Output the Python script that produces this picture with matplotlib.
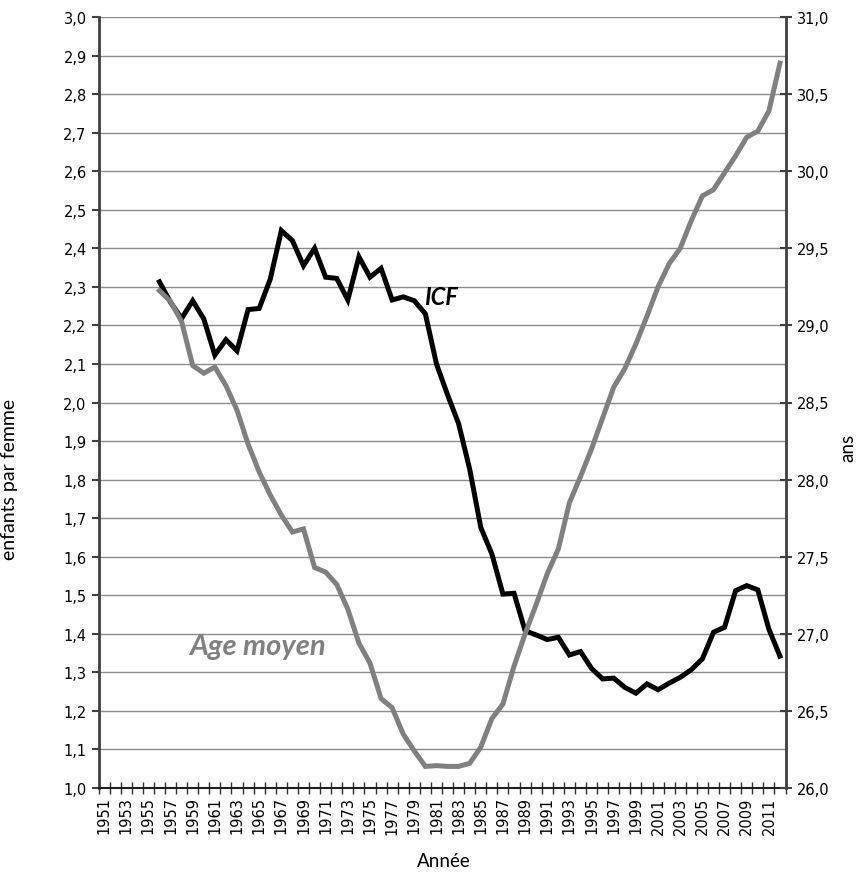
import matplotlib
matplotlib.use("Agg")
import matplotlib.pyplot as plt
import numpy as np
from matplotlib.ticker import FuncFormatter, FixedLocator

years = list(range(1956, 2013))
icf = [2.313, 2.26, 2.218, 2.264, 2.217, 2.123, 2.163, 2.134, 2.241, 2.244,
       2.32, 2.446, 2.42, 2.355, 2.40, 2.325, 2.322, 2.266, 2.378, 2.325,
       2.348, 2.266, 2.274, 2.264, 2.23, 2.10, 2.02, 1.945, 1.827, 1.676,
       1.607, 1.503, 1.505, 1.408, 1.397, 1.385, 1.391, 1.345, 1.354, 1.31,
       1.283, 1.285, 1.261, 1.246, 1.27, 1.255, 1.272, 1.287, 1.307, 1.335,
       1.404, 1.417, 1.512, 1.525, 1.514, 1.412, 1.342]
age_moyen = [29.225, 29.155, 29.025, 28.74, 28.69, 28.73, 28.61, 28.45, 28.23, 28.05,
             27.90, 27.77, 27.66, 27.68, 27.43, 27.40, 27.32, 27.16, 26.94, 26.81,
             26.58, 26.52, 26.35, 26.24, 26.14, 26.145, 26.14, 26.14, 26.16, 26.265,
             26.45, 26.545, 26.79, 27.00, 27.19, 27.39, 27.55, 27.85, 28.02, 28.20,
             28.40, 28.60, 28.72, 28.88, 29.06, 29.25, 29.40, 29.50, 29.68, 29.84,
             29.88, 29.99, 30.10, 30.22, 30.26, 30.39, 30.70]
year_labels = list(range(1951, 2012, 2))
left_ticks = [round(1.0 + 0.1 * i, 1) for i in range(21)]
right_ticks = [26.0 + 0.5 * i for i in range(11)]

W, H = 857, 879
fig = plt.figure(figsize=(W / 100, H / 100), dpi=100)
x0, x1 = 98.5, 785.5
y0, y1 = 18, 789
ax = fig.add_axes([x0 / W, 1 - y1 / H, (x1 - x0) / W, (y1 - y0) / H])
ax2 = ax.twinx()

tick_font = "DejaVu Sans"
comma = FuncFormatter(lambda v, p: f"{v:.1f}".replace(".", ","))

ax.set_xlim(1950.5, 2012.5)
ax.set_ylim(1.0, 3.0)
ax2.set_ylim(26.0, 31.0)

ax.yaxis.set_major_locator(FixedLocator(left_ticks))
ax.yaxis.set_major_formatter(comma)
ax2.yaxis.set_major_locator(FixedLocator(right_ticks))
ax2.yaxis.set_major_formatter(comma)

ax.grid(axis="y", color="#8c8c8c", linewidth=1.0)
ax.set_axisbelow(True)

ax.plot(years, icf, color="black", linewidth=3.6, solid_joinstyle="miter", zorder=3)
ax2.plot(years, age_moyen, color="#808080", linewidth=3.6, solid_joinstyle="miter", zorder=3)

# x axis
ax.set_xticks(year_labels)
ax.set_xticklabels([str(y) for y in year_labels], rotation=90, fontsize=10.5, family=tick_font)
ax.tick_params(axis="x", which="major", length=0, pad=6)
ax.set_xticks(np.arange(1950.5, 2013, 1.0), minor=True)
ax.tick_params(axis="x", which="minor", direction="inout", length=9, width=1, color="#303030")

ax.tick_params(axis="y", which="major", direction="out", length=5, width=1.5, color="#404040",
               labelsize=10.5)
ax2.tick_params(axis="y", which="major", direction="inout", length=9, width=1.5, color="#404040",
                labelsize=10.5)
for lab in ax.get_yticklabels() + ax2.get_yticklabels():
    lab.set_family(tick_font)

for sp in ["top"]:
    ax.spines[sp].set_visible(False)
    ax2.spines[sp].set_visible(False)
ax2.spines["left"].set_visible(False)
ax2.spines["bottom"].set_visible(False)
ax.spines["right"].set_visible(False)
ax.spines["left"].set_color("#404040")
ax.spines["left"].set_linewidth(2.0)
ax2.spines["right"].set_color("#404040")
ax2.spines["right"].set_linewidth(2.0)
ax.spines["bottom"].set_color("#202020")
ax.spines["bottom"].set_linewidth(1.5)

lab_font = "Lato"
fig.text(10 / W, 1 - 479 / H, "enfants par femme", rotation=90, ha="center", va="center",
         fontsize=14, family=lab_font)
fig.text(848 / W, 1 - 448 / H, "ans", rotation=90, ha="center", va="center",
         fontsize=13.5, family=lab_font)
fig.text(444 / W, 1 - 862 / H, "Année", ha="center", va="center", fontsize=13.5, family=lab_font)

ax.text(1979.9, 2.275, "ICF", fontsize=17, fontweight="bold", fontstyle="italic",
        family=lab_font, color="black", ha="left", va="center")
ax.text(1958.7, 1.368, "Age moyen", fontsize=21, fontweight="bold", fontstyle="italic",
        family=lab_font, color="#808080", ha="left", va="center")

fig.savefig("out.png", dpi=100)
